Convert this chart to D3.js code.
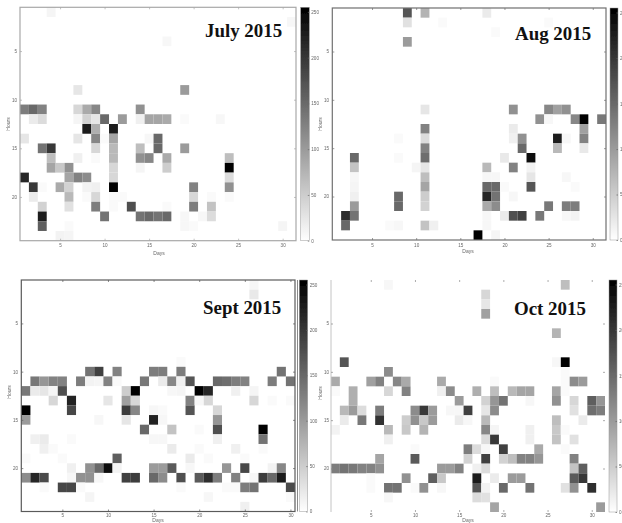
<!DOCTYPE html>
<html><head><meta charset="utf-8">
<script src="https://cdn.jsdelivr.net/npm/d3@7/dist/d3.min.js"></script>
<style>html,body{margin:0;padding:0;background:#fff;overflow:hidden}svg{display:block}</style>
</head><body><svg id="c" width="622" height="523"></svg>
<script>
// [day, hour, count]
const julyCells=[[4,1,10],[31,2,8],[17,4,8],[7,9,25],[19,9,100],
[1,11,130],[2,11,150],[3,11,125],[7,11,40],[8,11,85],[9,11,120],[14,11,110],
[2,12,20],[3,12,35],[7,12,10],[8,12,45],[9,12,25],[10,12,150],[12,12,100],[14,12,15],[15,12,90],[16,12,90],[17,12,85],[19,12,5],[23,12,8],
[8,13,225],[9,13,80],[11,13,225],
[1,14,25],[7,14,25],[9,14,120],[10,14,5],[11,14,90],[15,14,8],[16,14,150],
[3,15,140],[4,15,200],[9,15,40],[11,15,70],[14,15,65],[16,15,150],[19,15,100],
[4,16,65],[7,16,15],[9,16,5],[11,16,70],[14,16,110],[15,16,120],[17,16,85],[24,16,65],
[4,17,90],[5,17,55],[6,17,110],[11,17,40],[14,17,10],[17,17,50],[24,17,255],
[1,18,215],[6,18,90],[7,18,125],[8,18,115],[11,18,40],[24,18,35],
[2,19,200],[3,19,5],[5,19,85],[6,19,45],[8,19,12],[9,19,15],[11,19,255],[20,19,125],[24,19,110],
[2,20,20],[6,20,70],[8,20,5],[9,20,40],[11,20,5],[12,20,5],[20,20,40],[22,20,5],[24,20,5],
[3,21,45],[6,21,30],[9,21,130],[11,21,5],[13,21,175],[17,21,5],[20,21,130],[22,21,60],
[3,22,225],[10,22,140],[14,22,140],[15,22,150],[16,22,140],[17,22,150],[19,22,8],[21,22,8],[22,22,35],
[3,23,160],[6,23,5],[19,23,8],[20,23,5],[30,23,10],[5,24,12],[6,24,10]];
const augCells=[[9,1,170],[11,1,75],[18,1,20],[9,2,30],[13,2,5],[25,2,5],[19,3,5],[9,4,100],
[11,11,25],[21,11,110],[25,11,120],[26,11,95],[27,11,110],
[24,12,110],[25,12,8],[28,12,120],[29,12,255],[31,12,135],
[11,13,125],[21,13,20],[29,13,95],
[8,14,5],[11,14,35],[21,14,15],[22,14,110],[26,14,225],[27,14,8],[29,14,125],
[11,15,125],[22,15,150],[26,15,70],[29,15,22],
[3,16,150],[8,16,5],[11,16,145],[20,16,22],[23,16,240],
[3,17,60],[10,17,10],[11,17,25],[18,17,70],[21,17,125],[23,17,12],
[3,18,8],[11,18,65],[18,18,8],[19,18,8],[23,18,25],[27,18,8],
[3,19,10],[11,19,90],[18,19,150],[19,19,150],[20,19,5],[23,19,170],[28,19,5],
[3,20,15],[8,20,150],[11,20,50],[18,20,215],[19,20,140],[21,20,8],
[3,21,100],[8,21,150],[11,21,45],[18,21,85],[19,21,115],[25,21,135],[27,21,130],[28,21,130],
[2,22,210],[3,22,140],[18,22,8],[20,22,20],[21,22,175],[22,22,190],[24,22,135],[27,22,8],[28,22,12],
[2,23,150],[7,23,5],[8,23,8],[11,23,60],[12,23,15],[18,23,8],[17,24,255],[19,24,10]];
const septCells=[[26,1,8],[26,2,22],[18,9,5],
[8,10,140],[9,10,190],[11,10,125],[15,10,130],[16,10,130],[18,10,130],[29,10,140],
[2,11,135],[3,11,105],[4,11,125],[5,11,125],[7,11,130],[8,11,12],[9,11,10],[10,11,125],[11,11,5],[14,11,135],[16,11,20],[17,11,120],[18,11,15],[19,11,170],[22,11,150],[23,11,145],[24,11,130],[25,11,125],[28,11,130],[30,11,140],
[1,12,135],[2,12,20],[3,12,25],[4,12,10],[5,12,175],[12,12,50],[13,12,255],[17,12,8],[18,12,10],[20,12,255],[21,12,215],[24,12,15],[26,12,10],
[4,13,40],[6,13,220],[10,13,25],[12,13,95],[13,13,40],[19,13,125],[20,13,8],[21,13,40],[26,13,40],[28,13,5],[30,13,5],
[1,14,255],[6,14,185],[12,14,195],[13,14,120],[15,14,8],[16,14,5],[19,14,170],[22,14,40],
[1,15,100],[9,15,8],[12,15,25],[15,15,220],[16,15,8],[22,15,105],
[14,16,150],[17,16,60],[20,16,5],[22,16,175],[27,16,255],
[2,17,15],[3,17,20],[6,17,5],[15,17,8],[16,17,8],[22,17,15],[27,17,140],
[3,18,15],[4,18,5],[17,18,20],[20,18,5],[24,18,15],[27,18,5],
[1,19,5],[5,19,5],[11,19,160],[19,19,20],[21,19,5],[25,19,5],
[6,20,15],[8,20,110],[9,20,150],[10,20,240],[11,20,12],[15,20,100],[16,20,100],[17,20,165],[19,20,8],[23,20,105],[25,20,185],[28,20,12],[29,20,120],
[1,21,115],[2,21,215],[3,21,180],[6,21,8],[7,21,110],[8,21,110],[9,21,8],[12,21,190],[13,21,195],[15,21,150],[16,21,115],[18,21,175],[20,21,165],[21,21,210],[22,21,130],[24,21,125],[26,21,8],[27,21,195],[28,21,150],[29,21,225],
[3,22,5],[5,22,185],[6,22,185],[7,22,5],[18,22,5],[23,22,5],[24,22,5],[25,22,130],[26,22,140],[30,22,180],
[8,23,10],[21,23,8],[30,23,5],[25,24,15]];
const octCells=[[7,1,8],[27,1,65],[18,2,40],[18,3,25],[18,4,95],[26,6,75],[2,9,170],[26,9,8],[27,9,255],[7,10,115],[27,10,5],
[1,11,85],[5,11,95],[6,11,125],[8,11,120],[9,11,85],[13,11,85],[19,11,5],[27,11,5],[28,11,115],[29,11,100],
[1,12,5],[3,12,80],[7,12,40],[9,12,125],[13,12,15],[14,12,115],[17,12,80],[19,12,65],[21,12,70],[22,12,90],[23,12,90],[26,12,90],[27,12,5],
[3,13,80],[15,13,100],[18,13,45],[19,13,105],[20,13,140],[23,13,8],[26,13,110],[28,13,40],[30,13,160],[31,13,105],
[2,14,70],[3,14,100],[4,14,35],[6,14,130],[10,14,115],[11,14,200],[12,14,100],[14,14,8],[15,14,8],[16,14,190],[18,14,25],[19,14,115],[28,14,30],[30,14,145],[31,14,130],
[2,15,20],[4,15,135],[6,15,205],[9,15,50],[10,15,110],[11,15,55],[12,15,100],[15,15,20],[16,15,8],[18,15,70],[26,15,65],[29,15,20],
[1,16,12],[7,16,70],[9,16,55],[11,16,75],[18,16,120],[19,16,10],[23,16,15],[26,16,55],[27,16,5],
[7,17,15],[18,17,35],[19,17,200],[23,17,15],[26,17,60],[28,17,30],
[10,18,5],[16,18,130],[17,18,35],[18,18,8],[20,18,190],[24,18,85],[27,18,5],
[6,19,90],[10,19,165],[16,19,45],[18,19,190],[20,19,45],[21,19,65],[22,19,125],[23,19,125],[24,19,105],[28,19,125],
[1,20,130],[2,20,140],[3,20,135],[4,20,125],[5,20,125],[6,20,110],[13,20,100],[14,20,100],[15,20,125],[17,20,15],[18,20,35],[28,20,60],[29,20,160],
[5,21,5],[9,21,110],[12,21,160],[13,21,55],[17,21,225],[19,21,20],[21,21,100],[22,21,100],[28,21,165],[29,21,200],
[5,22,5],[7,22,140],[8,22,140],[10,22,5],[11,22,110],[13,22,8],[17,22,170],[18,22,12],[20,22,150],[23,22,140],[27,22,30],[28,22,110],[30,22,210],
[7,23,8],[17,23,35],[18,23,30],[19,24,90],[31,24,100]];
const titles=["July 2015","Aug 2015","Sept 2015","Oct 2015"];
const dayTicks=[5,10,15,20,25,30];
const hourTicks=[5,10,15,20];
const countTicks=[0,50,100,150,200,250];
const xLabel="Days", yLabel="Hours";
const maxCount=255;

const panels=[
 {cells:julyCells,days:31,x0:20,x1:296,y0:7.3,y1:240.7,bar:[300.7,309.3],frame:"#a8a8a8",tl:[205,37],xl:244,dl:255,dx:159,tx:17,yx:10,yy:124},
 {cells:augCells,days:31,x0:332.3,x1:606,y0:8,y1:240,bar:[610,618],frame:"#707070",tl:[515,40],xl:243.5,dl:253,dx:468,tx:329,yx:322,yy:124},
 {cells:septCells,days:30,x0:21.3,x1:295,y0:280,y1:511.5,bar:[299.3,307.7],frame:"#5a5a5a",tl:[203,313.7],xl:513.5,dl:522,dx:158,tx:18,yx:11,yy:392},
 {cells:octCells,days:31,x0:331,x1:605,y0:280,y1:512,bar:[609,617],frame:null,tl:[514,314.7],xl:513.5,dl:522,dx:468,tx:329,yx:322,yy:393}
];

const svg=d3.select("#c");
const color=d3.scaleLinear().domain([0,maxCount]).range(["#ffffff","#000000"]);
const defs=svg.append("defs");
defs.append("filter").attr("id","soft").attr("x","-5%").attr("y","-5%").attr("width","110%").attr("height","110%")
  .append("feGaussianBlur").attr("stdDeviation",0.45);
const grad=defs.append("linearGradient").attr("id","ramp").attr("x1",0).attr("x2",0).attr("y1",1).attr("y2",0);
grad.append("stop").attr("offset",0).attr("stop-color",color(0));
grad.append("stop").attr("offset",1).attr("stop-color",color(maxCount));

function styleAxis(g,tickCol){
  g.select(".domain").remove();
  g.selectAll("line").attr("stroke",tickCol).attr("stroke-width",0.7);
  g.selectAll("text").attr("fill","#666").attr("font-size",4.6).attr("font-family","'Liberation Sans',sans-serif");
}

panels.forEach((p,i)=>{
  const x=d3.scaleLinear().domain([0.5,p.days+0.5]).range([p.x0,p.x1]);
  const y=d3.scaleLinear().domain([0.5,24.5]).range([p.y0,p.y1]);
  const g=svg.append("g").attr("filter","url(#soft)");
  g.selectAll("rect.cell").data(p.cells).join("rect").attr("class","cell")
    .attr("x",d=>x(d[0]-0.5)).attr("y",d=>y(d[1]-0.5))
    .attr("width",x(1.5)-x(0.5)).attr("height",y(1.5)-y(0.5))
    .attr("fill",d=>color(d[2]));
  const frame=p.frame;
  if(frame){
    g.append("rect").attr("x",p.x0).attr("y",p.y0).attr("width",p.x1-p.x0).attr("height",p.y1-p.y0)
      .attr("fill","none").attr("stroke",frame).attr("stroke-width",1.2);
  } else {
    g.append("line").attr("x1",p.x0).attr("x2",p.x0).attr("y1",p.y0).attr("y2",p.y1)
      .attr("stroke","#c4c4c4").attr("stroke-width",1);
  }
  const tc=frame||"#888";
  g.append("g").attr("transform",`translate(0,${p.y1})`).call(d3.axisBottom(x).tickValues(dayTicks).tickSize(-2).tickPadding(p.xl-p.y1)).call(a=>styleAxis(a,tc));
  g.append("g").attr("transform",`translate(0,${p.y0})`).call(d3.axisTop(x).tickValues(dayTicks).tickSize(-2).tickFormat("")).call(a=>styleAxis(a,tc));
  g.append("g").attr("transform",`translate(${p.x0},0)`).call(d3.axisLeft(y).tickValues(hourTicks).tickSize(-2).tickPadding(p.x0-p.tx)).call(a=>styleAxis(a,tc));
  g.append("g").attr("transform",`translate(${p.x1},0)`).call(d3.axisRight(y).tickValues(hourTicks).tickSize(-2).tickFormat("")).call(a=>styleAxis(a,tc));
  const lab=(s,xx,yy,rot)=>g.append("text").text(s).attr("text-anchor","middle").attr("font-size",5)
    .attr("font-family","'Liberation Sans',sans-serif").attr("fill","#666")
    .attr("transform",`translate(${xx},${yy})`+(rot?" rotate(-90)":""));
  lab(xLabel,p.dx,p.dl,false);
  lab(yLabel,p.yx,p.yy,true);
  // colour bar
  const c=d3.scaleLinear().domain([0,maxCount]).range([p.y1,p.y0]);
  g.append("rect").attr("x",p.bar[0]).attr("y",p.y0).attr("width",p.bar[1]-p.bar[0]).attr("height",p.y1-p.y0)
    .attr("fill","url(#ramp)").attr("stroke","#999").attr("stroke-width",0.5);
  g.append("g").attr("transform",`translate(${p.bar[1]},0)`).call(d3.axisRight(c).tickValues(countTicks).tickSize(-1.5).tickPadding(2)).call(a=>styleAxis(a,"#666"));
  if(i===2){ g.append("line").attr("x1",297.5).attr("x2",297.5).attr("y1",p.y0).attr("y2",p.y1).attr("stroke","#8a8a8a").attr("stroke-width",1); }
  // month title
  svg.append("text").text(titles[i]).attr("x",p.tl[0]).attr("y",p.tl[1])
    .attr("font-family","'Liberation Serif',serif").attr("font-weight","bold").attr("font-size",18.9).attr("fill","#111");
});
</script></body></html>
